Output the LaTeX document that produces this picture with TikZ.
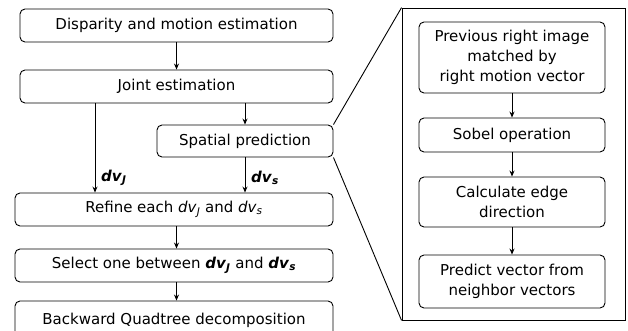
\documentclass[tikz,border=0pt]{standalone}
\usepackage{fontspec}
\setmainfont{DejaVu Sans}
\usetikzlibrary{arrows.meta}
\newcommand{\dvb}[1]{\textbf{\textit{dv}}\textsubscript{\textbf{\textit{#1}}}}
\newcommand{\dvi}[1]{\textit{dv}\textsubscript{\textit{#1}}}
\begin{document}
\begin{tikzpicture}[x=1pt,y=-1pt,
  box/.style={draw, line width=0.9pt, rounded corners=5pt, inner sep=0pt, align=center, font=\fontsize{15}{20}\selectfont},
  arr/.style={draw, line width=0.9pt, -{Stealth[length=6pt,width=5pt]}},
  ln/.style={draw, line width=0.9pt},
  lbl/.style={inner sep=0pt, font=\fontsize{15}{18}\selectfont}]
\useasboundingbox (0,0) rectangle (628,331);
\clip (0,0) rectangle (628,331);
\fill[white] (0,0) rectangle (628,331);
% left column
\node[box, minimum width=313pt, minimum height=33pt] (dme) at (176.5,25.5) {Disparity and motion estimation};
\node[box, minimum width=313pt, minimum height=33pt] (joint) at (176.5,86.5) {Joint estimation};
\node[box, minimum width=176pt, minimum height=32pt] (spatial) at (245,141) {Spatial prediction};
\node[box, minimum width=318pt, minimum height=33pt] (refine) at (174,209.5) {Refine each \dvi{J} and \dvi{s}};
\node[box, minimum width=318pt, minimum height=33pt] (select) at (174,265.5) {Select one between \dvb{J} and \dvb{s}};
\node[box, minimum width=318pt, minimum height=38pt] (backward) at (174,320) {Backward Quadtree decomposition};
% right panel
\node[draw, line width=0.9pt, minimum width=223pt, minimum height=312pt, inner sep=0pt] (panel) at (513.5,164) {};
\node[box, minimum width=186pt, minimum height=71pt] (prev) at (512,57.5) {Previous right image\\matched by\\right motion vector};
\node[box, minimum width=186pt, minimum height=34pt] (sobel) at (512,135) {Sobel operation};
\node[box, minimum width=186pt, minimum height=50pt] (calc) at (512,202) {Calculate edge\\direction};
\node[box, minimum width=186pt, minimum height=53pt] (pred) at (512,281.5) {Predict vector from\\neighbor vectors};
% connectors
\coordinate (jx) at (95,0);
\draw[arr] (dme.south) -- (joint.north);
\draw[arr] (joint.south -| spatial.north) -- (spatial.north);
\draw[arr] (joint.south -| jx) -- (refine.north -| jx);
\draw[arr] (spatial.south) -- (refine.north -| spatial.south);
\draw[arr] (refine.south -| dme.south) -- (select.north -| dme.south);
\draw[arr] (select.south -| dme.south) -- (backward.north -| dme.south);
\draw[arr] (prev.south) -- (sobel.north);
\draw[arr] (sobel.south) -- (calc.north);
\draw[arr] (calc.south) -- (pred.north);
\draw[ln] (spatial.north east) -- (panel.north west);
\draw[ln] (spatial.south east) -- (panel.south west);
% labels
\node[lbl, anchor=west] (ldvj) at (101,178) {\dvb{J}};
\node[lbl, anchor=west] (ldvs) at (251,178) {\dvb{s}};
\end{tikzpicture}
\end{document}
